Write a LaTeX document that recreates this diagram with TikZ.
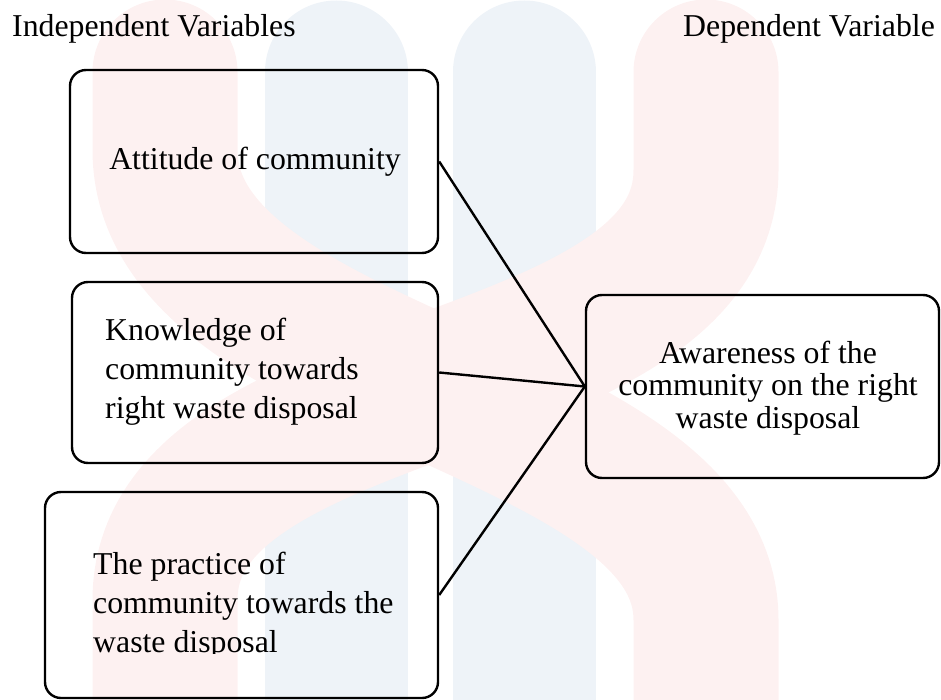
\documentclass[tikz,border=0pt]{standalone}
\usepackage{fontspec}
\setmainfont{Liberation Serif}
\definecolor{wmblue}{RGB}{238,243,248}
\definecolor{wmred}{RGB}{253,241,241}
\begin{document}
\begin{tikzpicture}[x=1pt,y=-1pt,
  box/.style={draw=black, line width=2.4pt, rounded corners=16pt, inner sep=0pt},
  lbl/.style={inner sep=0pt, font=\fontsize{31.8}{39}\selectfont},
  link/.style={line width=2.4pt, draw=black},
  wmb/.style={line width=143pt, line cap=round, draw=wmblue},
  wmr/.style={line width=145pt, line cap=round, draw=wmred}]
\useasboundingbox (0,0) rectangle (941,700);
% watermark
\begin{scope}
  \clip (0,0) rectangle (941,700);
  \draw[wmb] (336,72) -- (336,800);
  \draw[wmb] (524,72) -- (524,800);
  \draw[wmr] (706,72) -- (706,170) .. controls (706,400) and (165,370) .. (165,600) -- (165,800);
  \draw[wmr] (165,72) -- (165,150) .. controls (165,380) and (706,400) .. (706,620) -- (706,800);
\end{scope}
% headers
\node[lbl, anchor=base west] (h1) at (12,37) {Independent Variables};
\node[lbl, anchor=base east] (h2) at (935,37) {Dependent Variable};
% boxes
\node[box, minimum width=368pt, minimum height=183pt] (b1) at (254,161.5) {};
\node[box, minimum width=366pt, minimum height=181pt] (b2) at (255,372.5) {};
\node[box, minimum width=393pt, minimum height=206pt] (b3) at (241.5,595) {};
\node[box, minimum width=353pt, minimum height=183pt] (b4) at (762.5,386.5) {};
% connectors
\draw[link] (b1.east) -- (b4.west);
\draw[link] (b2.east) -- (b4.west);
\draw[link] (b3.east) -- (b4.west);
% texts (base anchor of a multi-line node = baseline of its last line)
\node[lbl, anchor=base] (t1) at (255,170) {Attitude of community};
\node[lbl, align=left, anchor=base west] (t2) at (105,418) {Knowledge of\\community towards\\right waste disposal};
\begin{scope}
  \clip (0,0) rectangle (941,653);
  \node[lbl, align=left, anchor=base west] (t3) at (93,652) {The practice of\\community towards the\\waste disposal};
\end{scope}
\node[lbl, font=\fontsize{31.8}{32.5}\selectfont, align=center, anchor=base] (t4) at (768,428) {Awareness of the\\community on the right\\waste disposal};
\end{tikzpicture}
\end{document}
